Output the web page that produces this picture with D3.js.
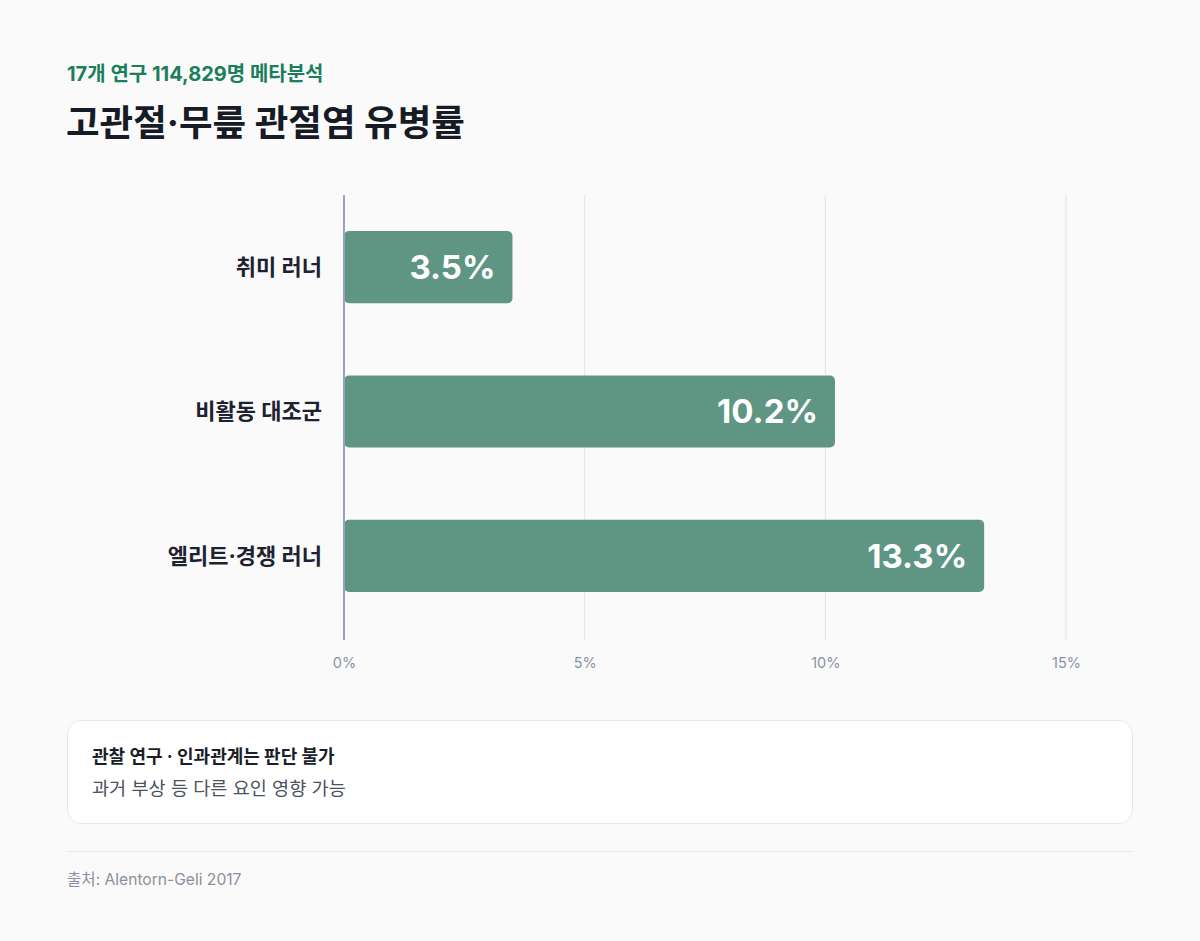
<!DOCTYPE html>
<html><head><meta charset="utf-8">
<script src="https://cdn.jsdelivr.net/npm/d3@7/dist/d3.min.js"></script>
<style>
html,body{margin:0;padding:0;background:#fafafa;}
svg{display:block;font-family:Inter,"Noto Sans CJK KR",sans-serif;}
</style></head>
<body>
<svg id="c" width="1200" height="941"></svg>
<script>
const categories = ["취미 러너", "비활동 대조군", "엘리트·경쟁 러너"];
const values = [3.5, 10.2, 13.3];
const ticks = [0, 5, 10, 15];
const subtitle = "17개 연구 114,829명 메타분석";
const title = "고관절·무릎 관절염 유병률";
const noteTitle = "관찰 연구 · 인과관계는 판단 불가";
const noteBody = "과거 부상 등 다른 요인 영향 가능";
const source = "출처: Alentorn-Geli 2017";

const svg = d3.select("#c");
svg.append("rect").attr("width",1200).attr("height",941).attr("fill","#fafafa");

svg.append("text").attr("x",67).attr("y",81).attr("fill","#1b7f5c")
  .attr("font-size",20).attr("font-weight",700).text(subtitle);
svg.append("text").attr("x",66).attr("y",136).attr("fill","#161b26")
  .attr("font-size",36.5).attr("font-weight",700).text(title);

const x = d3.scaleLinear().domain([0,15]).range([344,1066]);
const y = d3.scaleBand().domain(categories).range([195,628]).paddingInner(0.5).paddingOuter(0.25);

const g = svg.append("g");
// gridlines
g.selectAll("line.grid").data(ticks.filter(t=>t>0)).join("line")
  .attr("x1",d=>x(d)).attr("x2",d=>x(d)).attr("y1",195).attr("y2",640)
  .attr("stroke","#e5e7eb").attr("stroke-width",1.2);

// bars
g.selectAll("rect.bar").data(values).join("rect")
  .attr("x",x(0)).attr("y",(d,i)=>y(categories[i]))
  .attr("width",d=>x(d)-x(0)).attr("height",y.bandwidth())
  .attr("rx",5).attr("fill","#5e9583");

// baseline axis
g.append("line").attr("x1",x(0)).attr("x2",x(0)).attr("y1",195).attr("y2",640)
  .attr("stroke","#9aa3b2").attr("stroke-width",2);

// value labels
g.selectAll("text.val").data(values).join("text")
  .attr("x",d=>x(d)-17).attr("y",(d,i)=>y(categories[i])+y.bandwidth()/2)
  .attr("dy","0.36em").attr("text-anchor","end").attr("fill","#ffffff")
  .attr("font-size",33).attr("font-weight",700).text(d=>d.toFixed(1)+"%");

// category labels
g.selectAll("text.cat").data(categories).join("text")
  .attr("x",322).attr("y",d=>y(d)+y.bandwidth()/2)
  .attr("dy","0.36em").attr("text-anchor","end").attr("fill","#1d2230")
  .attr("font-size",22).attr("font-weight",700).text(d=>d);

// x axis tick labels
const axis = d3.axisBottom(x).tickValues(ticks).tickSize(0).tickPadding(0).tickFormat(d=>d+"%");
const ax = svg.append("g").attr("transform","translate(0,658)").call(axis);
ax.select(".domain").remove();
ax.selectAll("text").attr("fill","#8a92a5").attr("font-size",14.5)
  .attr("font-family",'Inter,"Noto Sans CJK KR",sans-serif');

// note box
svg.append("rect").attr("x",67.5).attr("y",720.5).attr("width",1065).attr("height",103)
  .attr("rx",14).attr("fill","#ffffff").attr("stroke","#e6e8ec").attr("stroke-width",1);
svg.append("text").attr("x",92).attr("y",763).attr("fill","#1a1f2b")
  .attr("font-size",18).attr("font-weight",700).text(noteTitle);
svg.append("text").attr("x",92).attr("y",795).attr("fill","#4b5260")
  .attr("font-size",18.6).attr("font-weight",400).text(noteBody);

// divider
svg.append("line").attr("x1",67).attr("x2",1133).attr("y1",851.5).attr("y2",851.5)
  .attr("stroke","#e6e8ec").attr("stroke-width",1);
svg.append("text").attr("x",67).attr("y",885).attr("fill","#8a909c")
  .attr("font-size",15.6).text(source);
</script>
</body></html>
